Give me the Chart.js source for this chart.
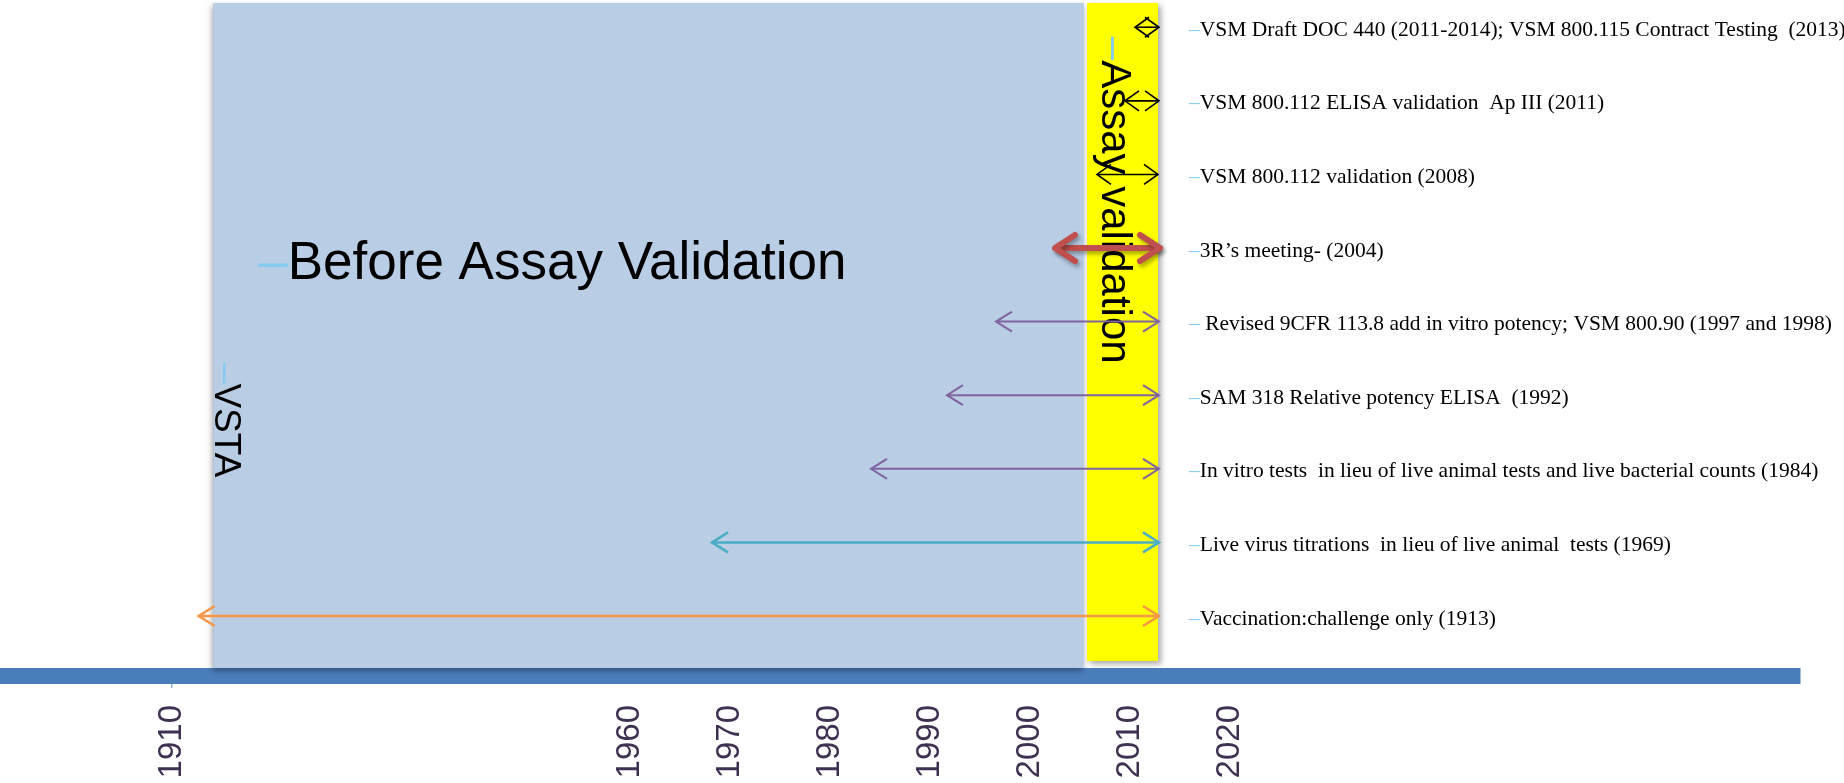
<!DOCTYPE html>
<html>
<head>
<meta charset="utf-8">
<title>Assay validation timeline</title>
<script src="https://cdn.jsdelivr.net/npm/chart.js@4.4.0/dist/chart.umd.min.js"></script>
<style>
  html, body { margin: 0; padding: 0; background: #fff; }
</style>
</head>
<body>
<canvas id="timeline" width="1844" height="783"></canvas>
<script>
// years printed under the time line
const tickYears = [1910, 1960, 1970, 1980, 1990, 2000, 2010, 2020];

// events, oldest first (row 0 = bottom row)
const eventLabels = [
    'Vaccination:challenge only (1913)',
    'Live virus titrations  in lieu of live animal  tests (1969)',
    'In vitro tests  in lieu of live animal tests and live bacterial counts (1984)',
    'SAM 318 Relative potency ELISA  (1992)',
    ' Revised 9CFR 113.8 add in vitro potency; VSM 800.90 (1997 and 1998)',
    '3R\u2019s meeting- (2004)',
    'VSM 800.112 validation (2008)',
    'VSM 800.112 ELISA validation  Ap III (2011)',
    'VSM Draft DOC 440 (2011-2014); VSM 800.115 Contract Testing  (2013)'
];
const eventRows = [0, 1, 2, 3, 4, 5, 6, 7, 8];
const arrowFrom = [1912.9, 1968.2, 1984.1, 1991.7, 1996.6, 2002.5, 2006.7, 2009.5, 2010.5];
const arrowTo = [2012.9, 2012.9, 2012.9, 2012.9, 2012.9, 2013.0, 2012.8, 2012.9, 2012.9];

// shaded periods
const periodFrom = [1914.5, 2005.7];
const periodTo = [2005.4, 2012.8];

// free text on the slide
const noteTexts = ['Before Assay Validation', 'VSTA', 'Assay validation'];

// the slide's axis is squeezed left of 1960
const knotYear = 1960;
const knotShare = 0.35;

class WarpedScale extends Chart.LinearScale {
    warp(v) {
        if (v <= knotYear) return (v - this.min) / (knotYear - this.min) * knotShare;
        return knotShare + (v - knotYear) / (this.max - knotYear) * (1 - knotShare);
    }
    getPixelForValue(v) {
        if (v === null || v === undefined || isNaN(v)) return NaN;
        return this.getPixelForDecimal(this.warp(v));
    }
    getValueForPixel(p) {
        const d = this.getDecimalForPixel(p);
        if (d <= knotShare) return this.min + d / knotShare * (knotYear - this.min);
        return knotYear + (d - knotShare) / (1 - knotShare) * (this.max - knotYear);
    }
}
WarpedScale.id = 'warped';
WarpedScale.defaults = Chart.LinearScale.defaults;
Chart.register(WarpedScale);

const DASH_BLUE = '#85CBF0';

function arrowStyle(i) {
    if (i === 0) return { color: '#F79646', width: 2.5, len: 16, half: 10 };
    if (i === 1) return { color: '#4BACC6', width: 2.5, len: 16, half: 10 };
    if (i <= 4) return { color: '#8064A2', width: 2, len: 16, half: 10 };
    if (i === 5) return { color: '#C0504D', width: 6, len: 20, half: 13, shadow: true };
    return { color: '#000000', width: 1.6, len: 14, half: 10 };
}

const datasets = [];
const periodColors = ['#B9CDE5', '#FFFF00'];
const periodBottom = [-0.706, -0.61];
periodFrom.forEach((p, i) => {
    datasets.push({
        period: true,
        data: [{ x: p, y: 8.33 }, { x: periodTo[i], y: 8.33 }],
        backgroundColor: periodColors[i],
        borderWidth: 0,
        pointRadius: 0,
        fill: { value: periodBottom[i] },
        order: 10
    });
});
eventRows.forEach((r, i) => {
    const st = arrowStyle(i);
    datasets.push({
        arrow: st,
        data: [{ x: arrowFrom[i], y: r }, { x: arrowTo[i], y: r }],
        borderColor: st.color,
        borderWidth: st.width,
        pointRadius: 0,
        fill: false,
        order: 1
    });
});

function dashText(ctx, text, size, family, x, y, angle) {
    ctx.save();
    ctx.translate(x, y);
    ctx.rotate(angle);
    ctx.font = size + 'px ' + family;
    ctx.textBaseline = 'alphabetic';
    ctx.textAlign = 'left';
    ctx.fillStyle = DASH_BLUE;
    ctx.fillText('\u2013', 0, 0);
    const w = ctx.measureText('\u2013').width;
    ctx.fillStyle = '#000';
    ctx.fillText(text, w, 0);
    ctx.restore();
}

function head(ctx, tip, from, len, half) {
    const a = Math.atan2(tip.y - from.y, tip.x - from.x);
    const bx = tip.x - len * Math.cos(a), by = tip.y - len * Math.sin(a);
    ctx.beginPath();
    ctx.moveTo(bx + half * Math.sin(a), by - half * Math.cos(a));
    ctx.lineTo(tip.x, tip.y);
    ctx.lineTo(bx - half * Math.sin(a), by + half * Math.cos(a));
    ctx.stroke();
}

const timelineDecor = {
    id: 'timelineDecor',
    beforeDatasetsDraw(chart) {
        const ctx = chart.ctx, xs = chart.scales.x, ys = chart.scales.y;
        // soft shadow behind the period boxes
        chart.data.datasets.forEach((ds, i) => {
            if (!ds.period) return;
            const pts = chart.getDatasetMeta(i).data;
            const bottom = ys.getPixelForValue(ds.fill.value);
            ctx.save();
            ctx.shadowColor = 'rgba(0,0,0,0.35)';
            ctx.shadowBlur = 6;
            ctx.shadowOffsetX = i === 1 ? 3 : -1;
            ctx.shadowOffsetY = 3;
            ctx.fillStyle = ds.backgroundColor;
            ctx.fillRect(pts[0].x, pts[0].y, pts[1].x - pts[0].x, bottom - pts[0].y);
            ctx.restore();
        });
        // captions inside the boxes
        const fam = '"Liberation Sans", Arial';
        dashText(ctx, noteTexts[0], 53, fam, xs.getPixelForValue(1919.4), ys.getPixelForValue(4.58), 0);
        dashText(ctx, noteTexts[1], 37, fam, xs.getPixelForValue(1914.7), ys.getPixelForValue(3.44), Math.PI / 2);
        dashText(ctx, noteTexts[2], 42, fam, xs.getPixelForValue(2007.2), ys.getPixelForValue(7.87), Math.PI / 2);
    },
    beforeDatasetDraw(chart, args) {
        const ds = chart.data.datasets[args.index];
        if (ds.arrow && ds.arrow.shadow) {
            chart.ctx.save();
            chart.ctx.shadowColor = 'rgba(0,0,0,0.35)';
            chart.ctx.shadowBlur = 4;
            chart.ctx.shadowOffsetX = 2;
            chart.ctx.shadowOffsetY = 3;
        }
    },
    afterDatasetDraw(chart, args) {
        const ds = chart.data.datasets[args.index];
        if (ds.arrow && ds.arrow.shadow) chart.ctx.restore();
    },
    afterDatasetsDraw(chart) {
        const ctx = chart.ctx, xs = chart.scales.x, ys = chart.scales.y;
        // arrow heads at both ends
        chart.data.datasets.forEach((ds, i) => {
            if (!ds.arrow) return;
            const st = ds.arrow;
            const pts = chart.getDatasetMeta(i).data;
            ctx.save();
            ctx.strokeStyle = st.color;
            ctx.lineWidth = st.width;
            ctx.lineJoin = st.shadow ? 'round' : 'miter';
            ctx.lineCap = st.shadow ? 'round' : 'butt';
            if (st.shadow) {
                ctx.shadowColor = 'rgba(0,0,0,0.35)';
                ctx.shadowBlur = 4;
                ctx.shadowOffsetX = 2;
                ctx.shadowOffsetY = 3;
            }
            head(ctx, pts[0], pts[1], st.len, st.half);
            head(ctx, pts[1], pts[0], st.len, st.half);
            ctx.restore();
        });
        // event texts to the right of the arrows
        const lx = xs.getPixelForValue(2015.9);
        eventLabels.forEach((t, i) => {
            const y = ys.getPixelForValue(eventRows[i]) + 3;
            ctx.save();
            ctx.font = '21.5px "Liberation Serif", "Times New Roman"';
            ctx.textBaseline = 'middle';
            ctx.fillStyle = DASH_BLUE;
            ctx.fillText('\u2013', lx, y);
            const w = ctx.measureText('\u2013').width;
            ctx.fillStyle = '#000';
            ctx.fillText(t, lx + w, y);
            ctx.restore();
        });
    }
};

new Chart(document.getElementById('timeline'), {
    type: 'line',
    data: { datasets: datasets },
    options: {
        responsive: false,
        animation: false,
        events: [],
        layout: { padding: { left: 0, right: 44, top: 0, bottom: 0 } },
        plugins: {
            legend: { display: false },
            tooltip: { enabled: false },
            filler: { drawTime: 'beforeDatasetsDraw', propagate: false }
        },
        scales: {
            x: {
                type: 'warped',
                min: 1891.2,
                max: 2077,
                z: 1,
                afterBuildTicks: s => { s.ticks = tickYears.map(v => ({ value: v })); },
                afterFit: s => { s.height = 107; },
                grid: {
                    drawOnChartArea: false,
                    drawTicks: true,
                    tickLength: 12,
                    lineWidth: 1.5,
                    color: c => (c.tick && c.tick.value === 1910) ? '#8EB4E3' : 'rgba(0,0,0,0)'
                },
                border: { display: true, color: '#4A7EBB', width: 16 },
                ticks: {
                    autoSkip: false,
                    minRotation: 90,
                    maxRotation: 90,
                    padding: 17,
                    color: '#3F3151',
                    font: { family: '"Liberation Sans", Arial', size: 33 },
                    callback: v => String(v)
                }
            },
            y: { type: 'linear', display: false, min: -0.815, max: 8.37 }
        }
    },
    plugins: [timelineDecor]
});
</script>
</body>
</html>
